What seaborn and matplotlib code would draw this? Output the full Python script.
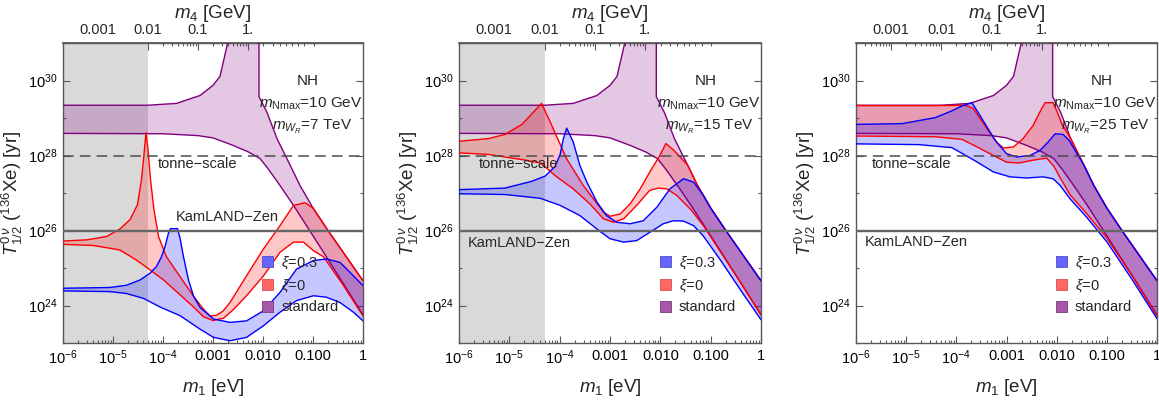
import numpy as np
import matplotlib
matplotlib.use("Agg")
import matplotlib.pyplot as plt
import seaborn as sns
from matplotlib.patches import Patch
from matplotlib.ticker import FixedLocator, LogLocator, NullFormatter

# ---------------- data (log10 m1 [eV], log10 T1/2 [yr]) ----------------
# standard mechanism band (identical in all panels)
std_up_logm1 = [-6.0, -4.3, -3.73, -3.26, -3.0, -2.86, -2.70, -2.62, -2.08, -2.08, -1.92, -1.72, -1.46, -1.26, -1.0, -0.7, 0.0]
std_up_logT = [29.34, 29.34, 29.39, 29.6, 29.87, 30.11, 31.04, 33.0, 33.0, 29.57, 29.15, 28.45, 27.75, 27.2, 26.6, 26.0, 24.66]
std_lo_logm1 = [-6.0, -4.0, -3.3, -3.0, -2.6, -2.3, -2.06, -1.9, -1.66, -1.39, -1.13, -0.79, -0.4, 0.0]
std_lo_logT = [28.59, 28.58, 28.53, 28.47, 28.27, 28.1, 27.92, 27.65, 27.2, 26.67, 26.13, 25.42, 24.6, 23.75]

# panel 1 : m_WR = 7 TeV
p1_red_up_logm1 = [-6.0, -5.53, -5.13, -4.86, -4.66, -4.51, -4.43, -4.39, -4.34, -4.30, -4.25, -4.18, -4.09, -3.93, -3.66, -3.39,
                   -3.19, -3.06, -2.93, -2.8, -2.66, -2.33, -1.99, -1.66, -1.39, -1.16, -1.0, -0.7, 0.0]
p1_red_up_logT = [25.72, 25.75, 25.84, 26.04, 26.29, 26.69, 27.36, 27.89, 28.61, 28.16, 27.36, 26.55, 25.84, 25.30, 24.77, 24.25,
                  23.9, 23.72, 23.74, 23.85, 24.08, 24.79, 25.51, 26.13, 26.67, 26.74, 26.6, 26.0, 24.66]
p1_red_lo_logm1 = [-6.0, -5.39, -4.86, -4.53, -4.26, -3.99, -3.73, -3.39, -3.19, -3.0, -2.79, -2.6, -2.33, -1.99, -1.66, -1.39,
                   -1.19, -0.99, -0.79, -0.4, 0.0]
p1_red_lo_logT = [25.63, 25.6, 25.48, 25.21, 24.95, 24.68, 24.37, 23.96, 23.70, 23.6, 23.66, 23.88, 24.26, 24.79, 25.42, 25.69,
                  25.69, 25.46, 25.3, 24.55, 23.72]
p1_blue_up_logm1 = [-6.0, -5.06, -4.73, -4.46, -4.26, -4.13, -4.03, -3.96, -3.89, -3.85, -3.71, -3.66, -3.59, -3.49, -3.39, -3.26,
                    -2.99, -2.66, -2.33, -1.99, -1.66, -1.33, -0.99, -0.73, -0.46, -0.19, 0.0]
p1_blue_up_logT = [24.46, 24.48, 24.54, 24.68, 24.86, 25.04, 25.30, 25.57, 25.93, 26.05, 26.05, 25.8, 25.30, 24.68, 24.25, 23.95,
                   23.64, 23.55, 23.59, 23.86, 24.35, 24.97, 25.2, 25.24, 25.15, 24.79, 24.53]
p1_blue_lo_logm1 = [-6.0, -5.06, -4.73, -4.39, -4.06, -3.66, -3.26, -2.99, -2.66, -2.33, -1.99, -1.66, -1.33, -0.99, -0.73, -0.46,
                    -0.19, 0.0]
p1_blue_lo_logT = [24.39, 24.37, 24.32, 24.19, 23.96, 23.73, 23.37, 23.15, 23.06, 23.15, 23.46, 23.82, 24.13, 24.26, 24.22, 24.08,
                   23.82, 23.59]

# panel 2 : m_WR = 15 TeV
p2_red_up_logm1 = [-6.0, -5.42, -5.09, -4.75, -4.56, -4.36, -4.19, -3.86, -3.53, -3.13, -3.0, -2.80, -2.60, -2.40, -2.21, -2.01,
                   -1.89, -1.74, -1.46, -1.26, -1.0, -0.7, 0.0]
p2_red_up_logT = [28.38, 28.45, 28.56, 28.83, 29.10, 29.39, 28.90, 27.91, 27.20, 26.49, 26.38, 26.44, 26.71, 27.11, 27.56, 28.0,
                  28.32, 28.15, 27.75, 27.2, 26.6, 26.0, 24.66]
p2_red_lo_logm1 = [-6.0, -5.42, -4.75, -4.38, -4.06, -3.73, -3.40, -3.13, -2.93, -2.73, -2.47, -2.21, -2.04, -1.87, -1.67, -1.39,
                   -1.13, -0.79, -0.4, 0.0]
p2_red_lo_logT = [28.07, 28.03, 27.89, 27.8, 27.43, 27.11, 26.71, 26.31, 26.22, 26.31, 26.67, 27.07, 27.13, 27.11, 26.93, 26.55,
                  26.1, 25.4, 24.6, 23.75]
p2_blue_up_logm1 = [-6.0, -5.09, -4.56, -4.29, -4.09, -3.99, -3.93, -3.86, -3.73, -3.6, -3.46, -3.26, -3.07, -2.87, -2.60, -2.34,
                    -2.07, -1.81, -1.54, -1.34, -1.15, -1.0, -0.7, 0.0]
p2_blue_up_logT = [27.09, 27.13, 27.31, 27.45, 27.71, 28.03, 28.43, 28.73, 28.36, 27.74, 27.29, 26.76, 26.40, 26.22, 26.18, 26.26,
                   26.62, 27.11, 27.38, 27.29, 26.95, 26.6, 26.0, 24.66]
p2_blue_lo_logm1 = [-6.0, -5.09, -4.39, -3.99, -3.60, -3.26, -3.0, -2.73, -2.47, -2.21, -1.94, -1.74, -1.54, -1.34, -1.15, -0.8,
                    -0.4, 0.0]
p2_blue_lo_logT = [26.98, 26.96, 26.86, 26.67, 26.40, 26.04, 25.78, 25.69, 25.73, 25.95, 26.18, 26.26, 26.25, 26.13, 25.86, 25.2,
                   24.4, 23.62]

# panel 3 : m_WR = 25 TeV
p3_red_up_logm1 = [-6.0, -4.5, -3.82, -3.66, -3.39, -3.2, -3.06, -2.86, -2.67, -2.47, -2.30, -2.23, -2.07, -1.97, -1.9, -1.72,
                   -1.46, -1.26, -1.0, -0.7, 0.0]
p3_red_up_logT = [29.33, 29.33, 29.34, 29.25, 28.72, 28.36, 28.2, 28.23, 28.45, 28.80, 29.25, 29.41, 29.41, 29.1, 28.85, 28.45,
                  27.75, 27.2, 26.6, 26.0, 24.66]
p3_red_lo_logm1 = [-6.0, -4.42, -3.89, -3.59, -3.26, -3.0, -2.75, -2.45, -2.2, -2.05, -1.93, -1.73, -1.4, -1.0, -0.5, 0.0]
p3_red_lo_logT = [28.52, 28.50, 28.43, 28.23, 28.0, 27.82, 27.8, 27.88, 27.93, 27.7, 27.4, 26.95, 26.45, 25.8, 24.8, 23.72]
p3_blue_up_logm1 = [-6.0, -5.08, -4.42, -4.09, -3.89, -3.69, -3.53, -3.33, -3.2, -3.0, -2.80, -2.53, -2.33, -2.17, -2.03, -1.87,
                    -1.75, -1.46, -1.26, -1.0, -0.7, 0.0]
p3_blue_up_logT = [28.83, 28.85, 29.01, 29.19, 29.32, 29.41, 29.07, 28.63, 28.36, 28.05, 27.96, 28.0, 28.14, 28.36, 28.58, 28.56,
                   28.4, 27.75, 27.2, 26.6, 26.0, 24.66]
p3_blue_lo_logm1 = [-6.0, -4.75, -4.09, -3.93, -3.59, -3.26, -2.93, -2.60, -2.27, -2.07, -1.93, -1.73, -1.4, -1.0, -0.5, 0.0]
p3_blue_lo_logT = [28.31, 28.29, 28.21, 28.09, 27.83, 27.56, 27.43, 27.40, 27.43, 27.38, 27.2, 26.84, 26.35, 25.7, 24.7, 23.65]

mwr_values = ["7", "15", "25"]
tonne_scale_T = 1e28
kamland_T = 1e26
excluded_m1_max = 5e-5
x_tick_values = [1e-6, 1e-5, 1e-4, 1e-3, 1e-2, 1e-1, 1.0]
x_tick_labels = [r"$10^{-6}$", r"$10^{-5}$", r"$10^{-4}$", "0.001", "0.010", "0.100", "1"]
y_tick_values = [1e24, 1e26, 1e28, 1e30]
y_tick_labels = [r"$10^{24}$", r"$10^{26}$", r"$10^{28}$", r"$10^{30}$"]
y_minor_values = [1e23, 1e25, 1e27, 1e29, 1e31]
m4_tick_values = [0.001, 0.01, 0.1, 1.0]
m4_tick_labels = ["0.001", "0.01", "0.1", "1."]
m_Nmax = 10.0       # GeV
m3_min = 0.05       # eV, sqrt(dm31^2)

# ---------------- style ----------------
sns.set_theme(style="ticks")
plt.rcParams["font.family"] = ["Liberation Sans", "DejaVu Sans"]
plt.rcParams["mathtext.fontset"] = "custom"
plt.rcParams["mathtext.rm"] = "Liberation Sans"
plt.rcParams["mathtext.it"] = "Liberation Sans:italic"
plt.rcParams["mathtext.bf"] = "Liberation Sans:bold"
plt.rcParams["axes.unicode_minus"] = True

PURPLE = (0.5, 0.0, 0.5)
RED = (1.0, 0.0, 0.0)
BLUE = (0.0, 0.0, 1.0)
ALPHA = 0.22
FRAME = "0.35"


def fwd(m1):
    m1 = np.asarray(m1, dtype=float)
    with np.errstate(all="ignore"):
        return m_Nmax * m1 / np.sqrt(m1 ** 2 + m3_min ** 2)


def inv(m4):
    m4 = np.clip(np.asarray(m4, dtype=float), 1e-30, m_Nmax * 0.999999)
    with np.errstate(all="ignore"):
        return m3_min * m4 / np.sqrt(m_Nmax ** 2 - m4 ** 2)


def band(ax, xu, yu, xl, yl, color, z):
    xs = np.concatenate([10.0 ** np.array(xu), (10.0 ** np.array(xl))[::-1]])
    ys = np.concatenate([10.0 ** np.array(yu), (10.0 ** np.array(yl))[::-1]])
    ax.fill(xs, ys, color=color, alpha=ALPHA, lw=0, zorder=z)


def edge(ax, x, y, color, z):
    sns.lineplot(x=10.0 ** np.array(x), y=10.0 ** np.array(y), ax=ax, sort=False, estimator=None,
                 color=color, lw=1.0, zorder=z, legend=False)


panels = [
    dict(rect=[63 / 1159, 57 / 400, 300 / 1159, 300 / 400], grey=True,
         red=(p1_red_up_logm1, p1_red_up_logT, p1_red_lo_logm1, p1_red_lo_logT),
         blue=(p1_blue_up_logm1, p1_blue_up_logT, p1_blue_lo_logm1, p1_blue_lo_logT),
         tonne=(0.45, 0.597), kam=(0.547, 0.421)),
    dict(rect=[459 / 1159, 57 / 400, 302 / 1159, 300 / 400], grey=True,
         red=(p2_red_up_logm1, p2_red_up_logT, p2_red_lo_logm1, p2_red_lo_logT),
         blue=(p2_blue_up_logm1, p2_blue_up_logT, p2_blue_lo_logm1, p2_blue_lo_logT),
         tonne=(0.196, 0.597), kam=(0.199, 0.332)),
    dict(rect=[856 / 1159, 57 / 400, 301 / 1159, 300 / 400], grey=False,
         red=(p3_red_up_logm1, p3_red_up_logT, p3_red_lo_logm1, p3_red_lo_logT),
         blue=(p3_blue_up_logm1, p3_blue_up_logT, p3_blue_lo_logm1, p3_blue_lo_logT),
         tonne=(0.183, 0.597), kam=(0.199, 0.336)),
]

fig = plt.figure(figsize=(11.59, 4.0), dpi=100)

for i, p in enumerate(panels):
    ax = fig.add_axes(p["rect"])
    ax.set_xscale("log")
    ax.set_yscale("log")
    ax.set_xlim(1e-6, 1.0)
    ax.set_ylim(1e23, 1e31)

    if p["grey"]:
        ax.axvspan(1e-6, excluded_m1_max, color=(0.85, 0.85, 0.85), lw=0, zorder=0.5)

    band(ax, std_up_logm1, std_up_logT, std_lo_logm1, std_lo_logT, PURPLE, 1)
    band(ax, *p["red"], RED, 2)
    band(ax, *p["blue"], BLUE, 3)

    edge(ax, std_up_logm1, std_up_logT, PURPLE, 4)
    edge(ax, std_lo_logm1, std_lo_logT, PURPLE, 4)
    edge(ax, p["red"][0], p["red"][1], RED, 4.1)
    edge(ax, p["red"][2], p["red"][3], RED, 4.1)
    edge(ax, p["blue"][0], p["blue"][1], BLUE, 4.2)
    edge(ax, p["blue"][2], p["blue"][3], BLUE, 4.2)

    ax.axhline(tonne_scale_T, color="0.3", lw=1.1, ls=(0, (7, 4)), zorder=5)
    ax.axhline(kamland_T, color="0.4", lw=1.7, zorder=5)

    # ticks
    ax.set_xticks(x_tick_values)
    ax.set_xticklabels(x_tick_labels)
    ax.xaxis.set_minor_locator(LogLocator(base=10, subs=np.arange(2, 10), numticks=100))
    ax.xaxis.set_minor_formatter(NullFormatter())
    ax.set_yticks(y_tick_values)
    ax.set_yticklabels(y_tick_labels)
    ax.yaxis.set_minor_locator(FixedLocator(y_minor_values))
    ax.yaxis.set_minor_formatter(NullFormatter())
    ax.tick_params(which="both", direction="in", top=False, right=True, color=FRAME,
                   labelcolor="black", labelsize=10.5, width=0.8)
    ax.tick_params(which="major", length=5, pad=4)
    ax.tick_params(which="minor", length=2.5)
    for s in ax.spines.values():
        s.set_color(FRAME)
        s.set_linewidth(1.0)

    ax.set_xlabel(r"$m_1$ [eV]", fontsize=13.5, labelpad=7)
    ax.set_ylabel(r"$T^{0\,\nu}_{1/2}$ ($^{136}$Xe) [yr]", fontsize=13.5, labelpad=2)

    sec = ax.secondary_xaxis("top", functions=(fwd, inv))
    sec.set_xticks(m4_tick_values)
    sec.set_xticklabels(m4_tick_labels)
    sec.xaxis.set_minor_locator(LogLocator(base=10, subs=np.arange(2, 10), numticks=100))
    sec.xaxis.set_minor_formatter(NullFormatter())
    sec.tick_params(which="both", direction="in", color=FRAME, labelsize=10.5, width=0.8)
    sec.tick_params(which="major", length=5, pad=4)
    sec.tick_params(which="minor", length=2.5)
    sec.spines["top"].set_color(FRAME)
    sec.set_xlabel(r"$m_4$ [GeV]", fontsize=13.5, labelpad=4)

    # annotations
    ax.text(0.817, 0.874, "NH", transform=ax.transAxes, ha="center", va="center", fontsize=11, zorder=6)
    ax.text(0.827, 0.799, r"$m_{\mathrm{Nmax}}$=10 GeV", transform=ax.transAxes, ha="center", va="center",
            fontsize=11, zorder=6)
    ax.text(0.83, 0.719, r"$m_{W_R}$=" + mwr_values[i] + " TeV", transform=ax.transAxes, ha="center",
            va="center", fontsize=11, zorder=6)
    ax.text(p["tonne"][0], p["tonne"][1], "tonne\u2212scale", transform=ax.transAxes, ha="center",
            va="center", fontsize=10.5, color="0.15", zorder=6)
    ax.text(p["kam"][0], p["kam"][1], "KamLAND\u2212Zen", transform=ax.transAxes, ha="center",
            va="center", fontsize=10.5, color="0.15", zorder=6)

    handles = [Patch(facecolor=(0.4, 0.4, 1.0), edgecolor=(0.3, 0.3, 0.8), lw=0.6, label=r"$\xi$=0.3"),
               Patch(facecolor=(1.0, 0.4, 0.4), edgecolor=(0.85, 0.3, 0.3), lw=0.6, label=r"$\xi$=0"),
               Patch(facecolor=(0.65, 0.35, 0.65), edgecolor=(0.5, 0.2, 0.5), lw=0.6, label="standard")]
    leg = ax.legend(handles=handles, loc="upper left", bbox_to_anchor=(0.655, 0.305), frameon=False,
                    fontsize=10.5, handlelength=0.75, handleheight=0.75, handletextpad=0.55,
                    labelspacing=0.42, borderpad=0.2, borderaxespad=0)
    leg.set_zorder(7)

fig.savefig("out.png", dpi=100)
